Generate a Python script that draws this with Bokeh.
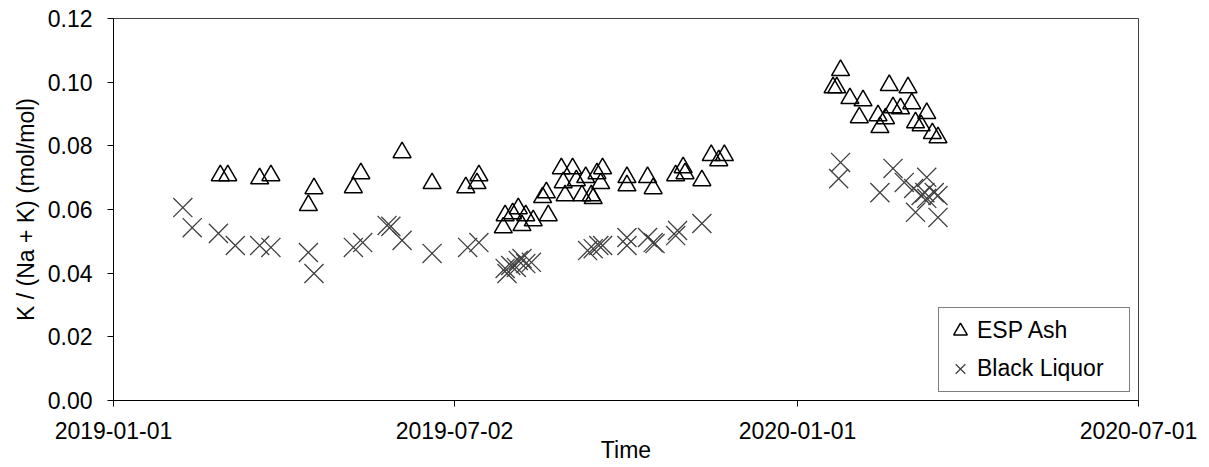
import pandas as pd
from bokeh.plotting import figure
from bokeh.models import FixedTicker, DatetimeTickFormatter, Range1d, PrintfTickFormatter
from bokeh.embed import file_html
from bokeh.resources import INLINE

# ---------------- data ----------------
esp_dates = [
    "2019-02-27", "2019-03-03", "2019-03-20", "2019-03-26", "2019-04-15", "2019-04-18",
    "2019-05-09", "2019-05-13", "2019-06-04", "2019-06-20", "2019-07-08", "2019-07-15",
    "2019-07-14", "2019-07-29", "2019-07-28", "2019-08-02", "2019-08-05", "2019-08-07",
    "2019-08-09", "2019-08-13", "2019-08-21", "2019-08-20", "2019-08-18", "2019-08-28",
    "2019-08-29", "2019-08-30", "2019-09-03", "2019-09-05", "2019-09-10", "2019-09-08",
    "2019-09-13", "2019-09-14", "2019-09-16", "2019-09-19", "2019-09-18", "2019-10-02",
    "2019-10-02", "2019-10-13", "2019-10-16", "2019-10-28", "2019-11-01", "2019-11-02",
    "2019-11-11", "2019-11-16", "2019-11-23", "2019-11-20",
    "2020-01-24", "2020-01-22", "2020-01-20", "2020-01-29", "2020-02-05", "2020-02-03",
    "2020-02-13", "2020-02-14", "2020-02-17", "2020-02-19", "2020-02-29", "2020-02-21",
    "2020-02-25", "2020-03-02", "2020-03-04", "2020-03-07", "2020-03-10", "2020-03-13",
    "2020-03-16",
]
esp_values = [
    0.0707, 0.0707, 0.0697, 0.0707, 0.0613, 0.0666,
    0.0669, 0.0713, 0.0779, 0.0682, 0.0669, 0.0707,
    0.0682, 0.0581, 0.0543, 0.0587, 0.0603, 0.0550,
    0.0581, 0.0565, 0.0581, 0.0653, 0.0638, 0.0729,
    0.0685, 0.0644, 0.0729, 0.0691, 0.0701, 0.0644,
    0.0644, 0.0635, 0.0713, 0.0729, 0.0682, 0.0701,
    0.0675, 0.0701, 0.0666, 0.0707, 0.0732, 0.0713,
    0.0691, 0.0770, 0.0770, 0.0754,
    0.1037, 0.0983, 0.0983, 0.0949, 0.0942, 0.0889,
    0.0895, 0.0858, 0.0886, 0.0990, 0.0983, 0.0920,
    0.0917, 0.0933, 0.0873, 0.0864, 0.0902, 0.0839,
    0.0826,
]
bl_dates = [
    "2019-02-07", "2019-02-12", "2019-02-26", "2019-03-07", "2019-03-20", "2019-03-26",
    "2019-04-15", "2019-04-18", "2019-05-09", "2019-05-14", "2019-05-27", "2019-05-29",
    "2019-06-04", "2019-06-20", "2019-07-09", "2019-07-15", "2019-07-29", "2019-08-01",
    "2019-08-05", "2019-08-07", "2019-08-12", "2019-07-30", "2019-08-04", "2019-08-09",
    "2019-09-11", "2019-09-14", "2019-09-17", "2019-09-19", "2019-10-02", "2019-10-02",
    "2019-10-13", "2019-10-16", "2019-10-17", "2019-10-29", "2019-10-28", "2019-11-11",
    "2020-01-24", "2020-01-23", "2020-02-21", "2020-02-14", "2020-02-27", "2020-03-03",
    "2020-03-07", "2020-03-10", "2020-03-14", "2020-03-10", "2020-03-16", "2020-03-04",
    "2020-03-16", "2020-03-09",
]
bl_values = [
    0.0606, 0.0543, 0.0525, 0.0487, 0.0487, 0.0481,
    0.0465, 0.0399, 0.0481, 0.0496, 0.0550, 0.0547,
    0.0503, 0.0462, 0.0481, 0.0496, 0.0415, 0.0424,
    0.0440, 0.0446, 0.0434, 0.0399, 0.0418, 0.0430,
    0.0471, 0.0477, 0.0487, 0.0487, 0.0512, 0.0487,
    0.0512, 0.0496, 0.0493, 0.0534, 0.0518, 0.0556,
    0.0748, 0.0697, 0.0729, 0.0653, 0.0685, 0.0666,
    0.0644, 0.0701, 0.0653, 0.0635, 0.0644, 0.0591,
    0.0575, 0.0653,
]
x_tick_labels = ["2019-01-01", "2019-07-02", "2020-01-01", "2020-07-01"]
y_ticks = [0.00, 0.02, 0.04, 0.06, 0.08, 0.10, 0.12]
series_names = ["ESP Ash", "Black Liquor"]
x_title = "Time"
y_title = "K / (Na + K) (mol/mol)"

FONT = "Liberation Sans"
FS = "23px"

x_tick_ms = [pd.Timestamp(t).value // 10**6 for t in x_tick_labels]

p = figure(
    width=1209, height=467,
    x_axis_type="datetime",
    x_range=Range1d(pd.Timestamp(x_tick_labels[0]), pd.Timestamp(x_tick_labels[-1])),
    y_range=Range1d(y_ticks[0], y_ticks[-1]),
    output_backend="svg", toolbar_location=None,
    min_border_left=113, min_border_right=71, min_border_top=18, min_border_bottom=67,
)

p.scatter(pd.to_datetime(esp_dates), esp_values, marker="triangle", size=18,
          fill_color=None, line_color="black", line_width=1.5, legend_label=series_names[0])
p.scatter(pd.to_datetime(bl_dates), bl_values, marker="x", size=27,
          line_color="#404040", line_width=1.3, legend_label=series_names[1])

p.xgrid.visible = False
p.ygrid.visible = False
p.outline_line_color = "#404040"
p.outline_line_width = 1

p.xaxis.ticker = FixedTicker(ticks=x_tick_ms)
p.xaxis.formatter = DatetimeTickFormatter(days="%Y-%m-%d", months="%Y-%m-%d", years="%Y-%m-%d")
p.yaxis.ticker = FixedTicker(ticks=y_ticks)
p.yaxis.formatter = PrintfTickFormatter(format="%.2f")

for ax in p.axis:
    ax.minor_tick_line_color = None
    ax.major_tick_in = 0
    ax.major_tick_out = 6
    ax.axis_line_color = "black"
    ax.major_tick_line_color = "black"
    ax.major_label_text_font = FONT
    ax.major_label_text_font_size = FS
    ax.major_label_text_color = "black"
    ax.axis_label_text_font = FONT
    ax.axis_label_text_font_size = FS
    ax.axis_label_text_font_style = "normal"
    ax.axis_label_text_color = "black"

p.xaxis.axis_label = x_title
p.yaxis.axis_label = y_title
p.xaxis.major_label_standoff = 15
p.xaxis.axis_label_standoff = -5
p.yaxis.major_label_standoff = 15
p.yaxis.axis_label_standoff = 6

lg = p.legend[0]
lg.location = "bottom_right"
lg.margin = 8
lg.padding = 4
lg.spacing = 1
lg.glyph_width = 34
lg.glyph_height = 37
lg.label_standoff = 0
lg.label_width = 148
lg.label_text_font = FONT
lg.label_text_font_size = FS
lg.label_text_color = "black"
lg.border_line_color = "black"
lg.border_line_width = 1
lg.background_fill_color = "white"
lg.background_fill_alpha = 1.0

open("out.html", "w").write(file_html(p, INLINE))
